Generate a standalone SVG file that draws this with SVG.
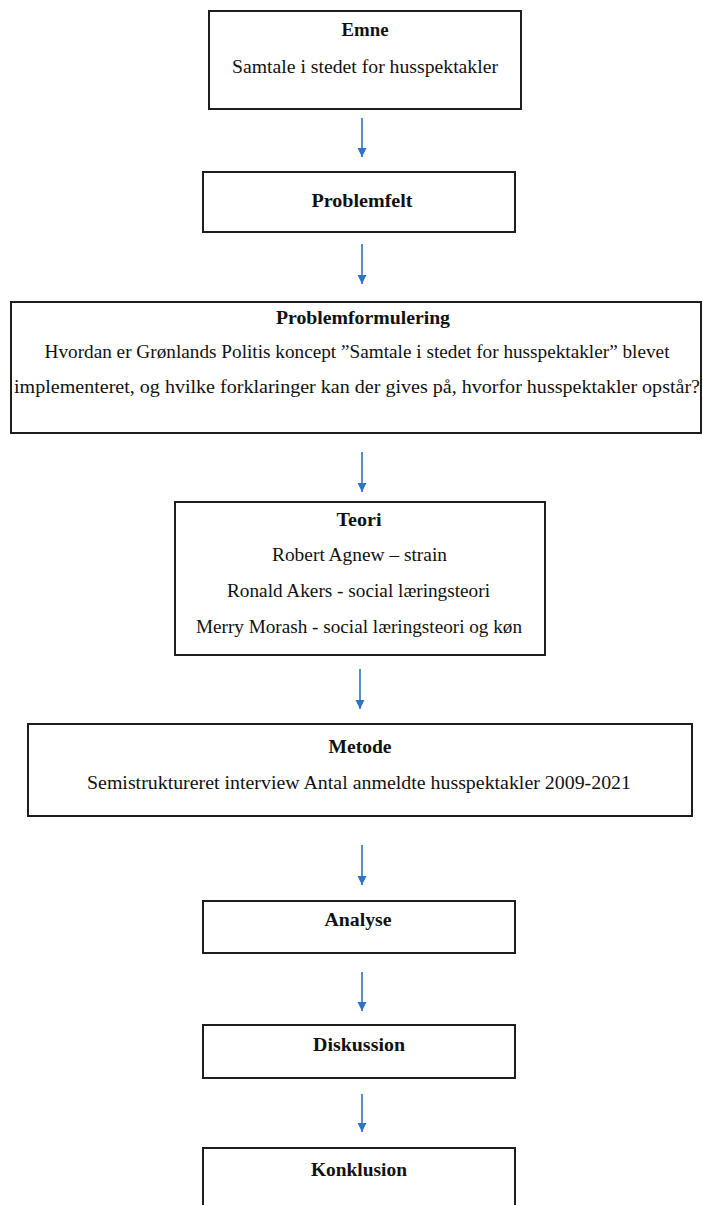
<svg xmlns="http://www.w3.org/2000/svg" width="703" height="1205" viewBox="0 0 703 1205">
<defs>
<style>
.box{fill:#fff;stroke:#1e1e1e;stroke-width:2}
.t{font-family:"Liberation Serif","Times New Roman",serif;font-size:18px;font-weight:bold;fill:#111;text-anchor:middle}
.b{font-family:"Liberation Serif","Times New Roman",serif;font-size:18px;fill:#111;text-anchor:middle}
.c{stroke:#2f74c4;stroke-width:1.6;fill:none}
</style>
<marker id="ah" viewBox="0 0 10 10" refX="10" refY="5" markerWidth="9" markerHeight="10" markerUnits="userSpaceOnUse" orient="auto">
<path d="M0,0 L10,5 L0,10 Z" fill="#2f74c4"/>
</marker>
</defs>
<rect width="703" height="1205" fill="#fff"/>
<g id="connectors">
<line class="c" x1="362" y1="118" x2="362" y2="157" marker-end="url(#ah)"/>
<line class="c" x1="362" y1="244" x2="362" y2="284" marker-end="url(#ah)"/>
<line class="c" x1="362" y1="452" x2="362" y2="492" marker-end="url(#ah)"/>
<line class="c" x1="360" y1="669" x2="360" y2="709" marker-end="url(#ah)"/>
<line class="c" x1="362" y1="845" x2="362" y2="885" marker-end="url(#ah)"/>
<line class="c" x1="362" y1="972" x2="362" y2="1011" marker-end="url(#ah)"/>
<line class="c" x1="362" y1="1094" x2="362" y2="1132" marker-end="url(#ah)"/>
</g>
<g id="emne">
<rect class="box" x="209" y="11" width="312" height="98"/>
<text class="t" x="365" y="36" textLength="47" lengthAdjust="spacingAndGlyphs">Emne</text>
<text class="b" x="365" y="73" textLength="266" lengthAdjust="spacingAndGlyphs">Samtale i stedet for husspektakler</text>
</g>
<g id="problemfelt">
<rect class="box" x="203" y="172" width="312" height="60"/>
<text class="t" x="362" y="207" textLength="101" lengthAdjust="spacingAndGlyphs">Problemfelt</text>
</g>
<g id="problemformulering">
<rect class="box" x="11" y="302" width="690" height="131"/>
<text class="t" x="363" y="324" textLength="174" lengthAdjust="spacingAndGlyphs">Problemformulering</text>
<text class="b" x="357" y="358" textLength="625" lengthAdjust="spacingAndGlyphs">Hvordan er Grønlands Politis koncept ”Samtale i stedet for husspektakler” blevet</text>
<text class="b" x="357" y="393" textLength="686" lengthAdjust="spacingAndGlyphs">implementeret, og hvilke forklaringer kan der gives på, hvorfor husspektakler opstår?</text>
</g>
<g id="teori">
<rect class="box" x="175" y="502" width="370" height="153"/>
<text class="t" x="359" y="526" textLength="45" lengthAdjust="spacingAndGlyphs">Teori</text>
<text class="b" x="359.5" y="561" textLength="175" lengthAdjust="spacingAndGlyphs">Robert Agnew – strain</text>
<text class="b" x="358.5" y="597" textLength="263" lengthAdjust="spacingAndGlyphs">Ronald Akers - social læringsteori</text>
<text class="b" x="359" y="633" textLength="326" lengthAdjust="spacingAndGlyphs">Merry Morash - social læringsteori og køn</text>
</g>
<g id="metode">
<rect class="box" x="28" y="724" width="664" height="92"/>
<text class="t" x="360" y="753" textLength="63" lengthAdjust="spacingAndGlyphs">Metode</text>
<text class="b" x="359" y="789" textLength="544" lengthAdjust="spacingAndGlyphs">Semistruktureret interview Antal anmeldte husspektakler 2009-2021</text>
</g>
<g id="analyse">
<rect class="box" x="203" y="901" width="312" height="52"/>
<text class="t" x="358" y="926" textLength="67" lengthAdjust="spacingAndGlyphs">Analyse</text>
</g>
<g id="diskussion">
<rect class="box" x="203" y="1025" width="312" height="53"/>
<text class="t" x="359" y="1051" textLength="92" lengthAdjust="spacingAndGlyphs">Diskussion</text>
</g>
<g id="konklusion">
<rect class="box" x="203" y="1148" width="312" height="70"/>
<text class="t" x="359" y="1176" textLength="96" lengthAdjust="spacingAndGlyphs">Konklusion</text>
</g>
</svg>
